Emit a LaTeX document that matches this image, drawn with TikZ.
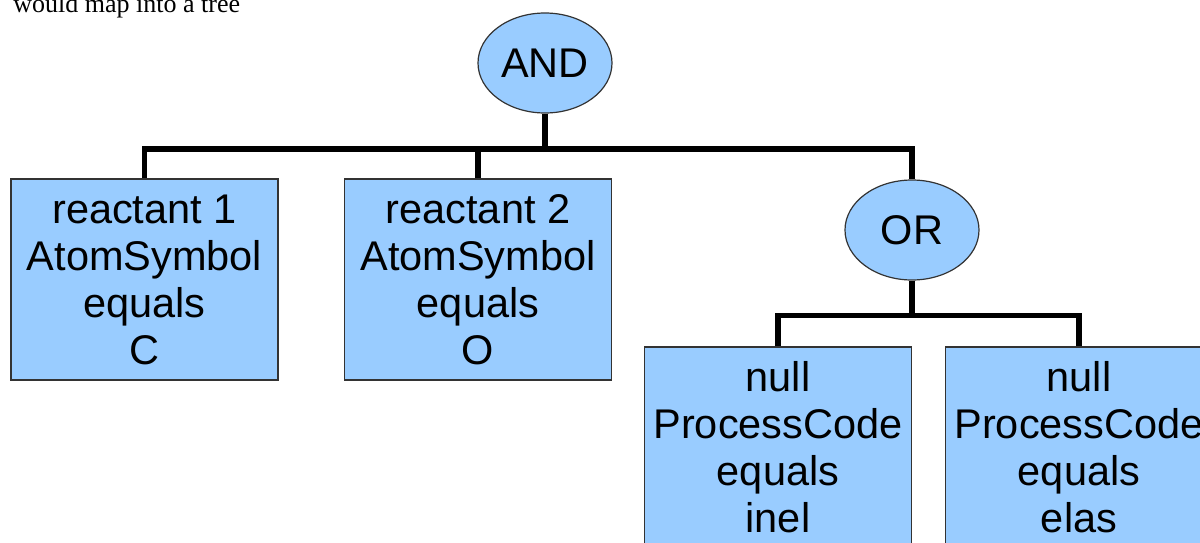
\documentclass[tikz,border=0pt]{standalone}
\usepackage{fontspec}
\setmainfont{Liberation Sans}
\newfontfamily\captionfont{Liberation Serif}
\usetikzlibrary{shapes.geometric}
\definecolor{nodefill}{RGB}{153,204,255}
\definecolor{nodeline}{RGB}{51,51,51}
\begin{document}
\begin{tikzpicture}[x=0.5pt,y=-0.5pt,
  cond/.style={rectangle,draw=nodeline,fill=nodefill,line width=0.75pt,minimum width=133.5pt,minimum height=100.5pt,inner sep=0pt,align=center,font=\fontsize{20.75}{23.5}\selectfont},
  oper/.style={ellipse,draw=nodeline,fill=nodefill,line width=0.6pt,minimum width=67pt,minimum height=50pt,inner sep=0pt,font=\fontsize{20.75}{23.5}\selectfont},
  link/.style={line width=2.8pt}]
\useasboundingbox (0,0) rectangle (1200,542);
\clip (0,0) rectangle (1200,542);
\node [anchor=base west,inner sep=0pt,font=\captionfont\fontsize{13}{15}\selectfont] (cap) at (13,12) {would map into a tree};
\node [oper] (and) at (545,63) {AND};
\node [cond] (r1) at (144.5,279.5) {reactant 1\\AtomSymbol\\equals\\C};
\node [cond] (r2) at (478,279.5) {reactant 2\\AtomSymbol\\equals\\O};
\node [oper] (or) at (912,230) {OR};
\node [cond] (p1) at (778,447.5) {null\\ProcessCode\\equals\\inel};
\node [cond] (p2) at (1079,447.5) {null\\ProcessCode\\equals\\elas};
\coordinate (bus1) at (545,149);
\coordinate (bus2) at (912,315.5);
\draw [link] (r1.north) |- (or.north |- bus1) -- (or.north);
\draw [link] (and.south) -- (bus1);
\draw [link] (r2.north) -- (r2.north |- bus1);
\draw [link] (p1.north) |- (p2.north |- bus2) -- (p2.north);
\draw [link] (or.south) -- (bus2);
\end{tikzpicture}
\end{document}
